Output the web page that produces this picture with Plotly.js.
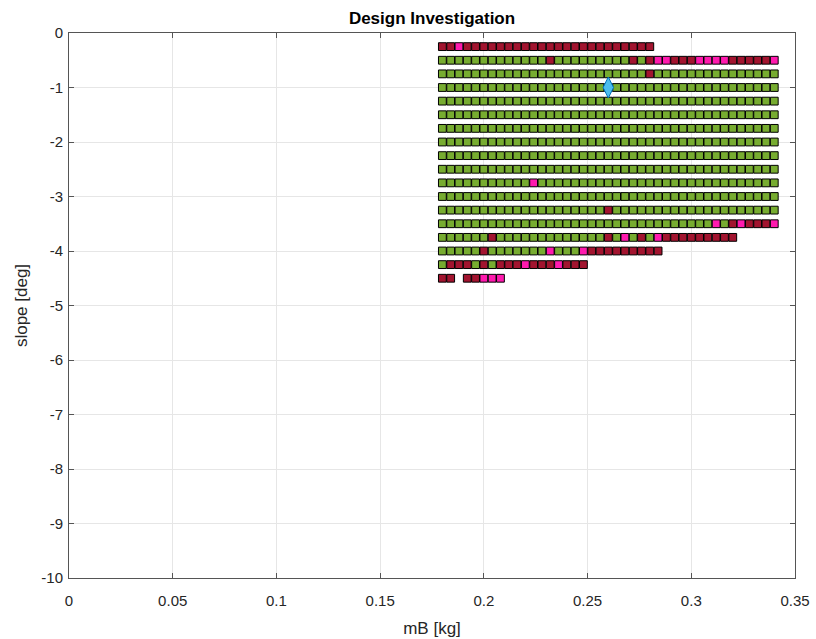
<!DOCTYPE html>
<html>
<head>
<meta charset="utf-8">
<script src="https://cdn.plot.ly/plotly-3.0.1.min.js"></script>
<style>
  html, body { margin: 0; padding: 0; background: #fff; }
  #chart { width: 816px; height: 639px; }
</style>
</head>
<body>
<div id="chart"></div>
<script>
// Candidate ball masses (kg), one per grid column
const mB = [0.180, 0.184, 0.188, 0.192, 0.196, 0.200, 0.204, 0.208, 0.212, 0.216,
            0.220, 0.224, 0.228, 0.232, 0.236, 0.240, 0.244, 0.248, 0.252, 0.256,
            0.260, 0.264, 0.268, 0.272, 0.276, 0.280, 0.284, 0.288, 0.292, 0.296,
            0.300, 0.304, 0.308, 0.312, 0.316, 0.320, 0.324, 0.328, 0.332, 0.336,
            0.340];
// Candidate slopes (deg), one per grid row
const slope = [-0.25, -0.5, -0.75, -1.0, -1.25, -1.5, -1.75, -2.0, -2.25,
               -2.5, -2.75, -3.0, -3.25, -3.5, -3.75, -4.0, -4.25, -4.5];
// Outcome per cell: G = feasible (green), R = failed (dark red), M = failed (magenta), . = not evaluated
const outcome = [
  "RRMRRRRRRRRRRRRRRRRRRRRRRR...............",
  "GGGGGGGGGGGGGRGGGGGGGGGRGRMMRRRMMMMRRRRRM",
  "GGGGGGGGGGGGGGGGGGGGGGGGGRGGGGGGGGGGGGGGG",
  "GGGGGGGGGGGGGGGGGGGGGGGGGGGGGGGGGGGGGGGGG",
  "GGGGGGGGGGGGGGGGGGGGGGGGGGGGGGGGGGGGGGGGG",
  "GGGGGGGGGGGGGGGGGGGGGGGGGGGGGGGGGGGGGGGGG",
  "GGGGGGGGGGGGGGGGGGGGGGGGGGGGGGGGGGGGGGGGG",
  "GGGGGGGGGGGGGGGGGGGGGGGGGGGGGGGGGGGGGGGGG",
  "GGGGGGGGGGGGGGGGGGGGGGGGGGGGGGGGGGGGGGGGG",
  "GGGGGGGGGGGGGGGGGGGGGGGGGGGGGGGGGGGGGGGGG",
  "GGGGGGGGGGGMGGGGGGGGGGGGGGGGGGGGGGGGGGGGG",
  "GGGGGGGGGGGGGGGGGGGGGGGGGGGGGGGGGGGGGGGGG",
  "GGGGGGGGGGGGGGGGGGGGRGGGGGGGGGGGGGGGGGGGG",
  "GGGGGGGGGGGGGGGGGGGGGGGGGGGGGGGGGMGRMRRRM",
  "GGGGGGRGGGGGGGGGGGGGRGMGRGMRRRRRRRRR.....",
  "GGGGGRGGGGGGGMGGGMRRRRRRRRR..............",
  "GRRRGRGRRRMRRRMRRR.......................",
  "RR.RRMMM................................."
];
// Selected design point
const bestMB = [0.26];
const bestSlope = [-1.0];
// Tick labels
const xTickVals = [0, 0.05, 0.1, 0.15, 0.2, 0.25, 0.3, 0.35];
const xTickText = ["0", "0.05", "0.1", "0.15", "0.2", "0.25", "0.3", "0.35"];
const yTickVals = [0, -1, -2, -3, -4, -5, -6, -7, -8, -9, -10];
const yTickText = ["0", "-1", "-2", "-3", "-4", "-5", "-6", "-7", "-8", "-9", "-10"];

const colors = { G: "#77AC30", R: "#A2142F", M: "#FF1AAE" };
const pts = { G: {x: [], y: []}, R: {x: [], y: []}, M: {x: [], y: []} };
outcome.forEach((row, r) => {
  for (let c = 0; c < row.length; c++) {
    const k = row[c];
    if (pts[k]) { pts[k].x.push(mB[c]); pts[k].y.push(slope[r]); }
  }
});

const traces = ["G", "R", "M"].map(k => ({
  type: "scatter", mode: "markers", x: pts[k].x, y: pts[k].y,
  marker: { symbol: "square", size: 7.8, color: colors[k], line: { color: "#000", width: 1 } },
  hoverinfo: "x+y", showlegend: false
}));
traces.push({
  type: "scatter", mode: "markers", x: bestMB, y: bestSlope,
  marker: { symbol: "diamond-tall", size: 15, color: "#4DBEEE", line: { color: "#0072BD", width: 1 } },
  showlegend: false
});

const fam = "Liberation Sans, Arial, Helvetica, sans-serif";
const axisFont = { family: fam, size: 15, color: "#262626" };
const layout = {
  width: 816, height: 639,
  margin: { l: 69, r: 21, t: 33, b: 61 },
  paper_bgcolor: "#fff", plot_bgcolor: "#fff",
  title: { text: "<b>Design Investigation</b>", x: 0.5, xref: "paper", y: 1 - 18 / 639, yref: "container",
           yanchor: "middle", font: { family: fam, size: 17, color: "#000" } },
  xaxis: {
    range: [0, 0.35], tickvals: xTickVals, ticktext: xTickText,
    showgrid: true, gridcolor: "#e6e6e6", zeroline: false,
    showline: true, linecolor: "#555", linewidth: 1, mirror: "ticks",
    ticks: "inside", ticklen: 5, tickcolor: "#555", tickfont: axisFont,
    ticklabelstandoff: 9,
    title: { text: "mB [kg]", standoff: 14, font: { family: fam, size: 17, color: "#262626" } }
  },
  yaxis: {
    range: [-10, 0], tickvals: yTickVals, ticktext: yTickText,
    showgrid: true, gridcolor: "#e6e6e6", zeroline: false,
    showline: true, linecolor: "#555", linewidth: 1, mirror: "ticks",
    ticks: "inside", ticklen: 5, tickcolor: "#555", tickfont: axisFont,
    ticklabelstandoff: 2,
    title: { text: "slope [deg]", standoff: 9, font: { family: fam, size: 17, color: "#262626" } }
  }
};

Plotly.newPlot("chart", traces, layout, { displayModeBar: false, staticPlot: true });
</script>
</body>
</html>
